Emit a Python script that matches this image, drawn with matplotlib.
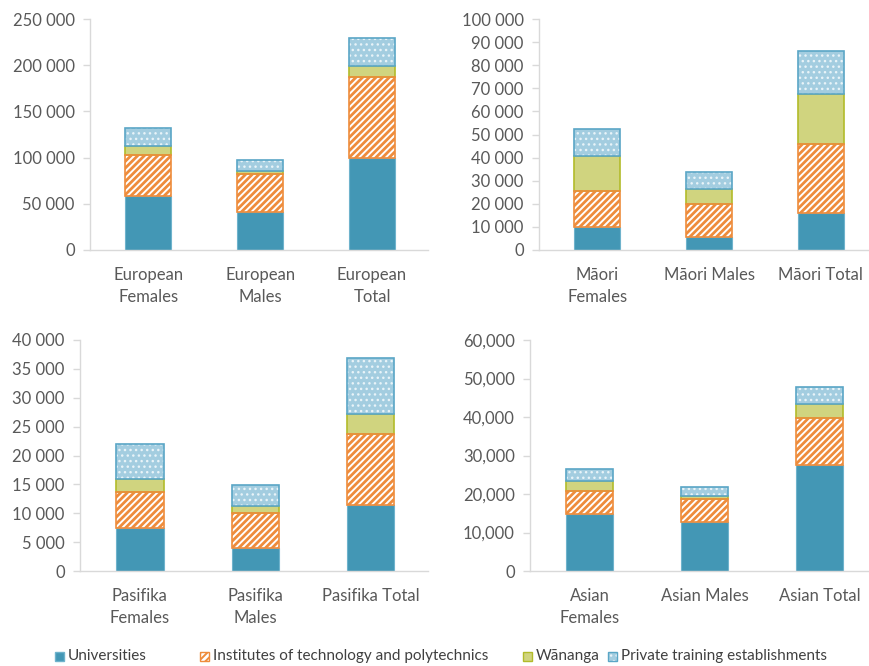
import matplotlib
matplotlib.use('Agg')
from matplotlib import pyplot as plt
from matplotlib.patches import Rectangle
from matplotlib.ticker import FuncFormatter

plt.rcParams['font.family'] = ['Lato', 'DejaVu Sans']

# values (students)
european_labels = ['European\nFemales', 'European\nMales', 'European\nTotal']
european_uni = [58000, 41000, 100000]
european_itp = [45000, 41000, 87000]
european_wan = [10000, 3500, 12000]
european_pte = [19500, 12000, 30000]

maori_labels = ['Māori\nFemales', 'Māori Males', 'Māori Total']
maori_uni = [10000, 5500, 16000]
maori_itp = [15700, 14300, 30000]
maori_wan = [15000, 6700, 21600]
maori_pte = [11800, 7400, 18600]

pasifika_labels = ['Pasifika\nFemales', 'Pasifika\nMales', 'Pasifika Total']
pasifika_uni = [7400, 3900, 11400]
pasifika_itp = [6200, 6100, 12300]
pasifika_wan = [2300, 1300, 3500]
pasifika_pte = [6100, 3600, 9600]

asian_labels = ['Asian\nFemales', 'Asian Males', 'Asian Total']
asian_uni = [14800, 12800, 27600]
asian_itp = [6100, 5900, 12100]
asian_wan = [2600, 900, 3600]
asian_pte = [2900, 2100, 4600]

legend_names = ['Universities', 'Institutes of technology and polytechnics',
                'Wānanga', 'Private training establishments']

uni_col = '#4397b5'
uni_edge = '#6fb3cc'
itp_col = '#ee8c3c'
wan_face = '#d0d47f'
wan_edge = '#b2bb2a'
pte_face = '#a3cde0'
pte_edge = '#5aa6c6'
text_col = '#595959'
axis_col = '#d9d9d9'

ITP_HATCH = '/////'
PTE_HATCH = '...'


def fmt_space(v, pos):
    return f'{int(v):,}'.replace(',', ' ')


def fmt_comma(v, pos):
    return f'{int(v):,}'


def stacked(ax, labels, uni, itp, wan, pte, ymax, step, fmt, xlim):
    x = list(range(len(labels)))
    w = 0.41
    b1 = uni
    b2 = [a + b for a, b in zip(uni, itp)]
    b3 = [a + b for a, b in zip(b2, wan)]
    ax.bar(x, uni, w, color=uni_col, edgecolor=uni_edge, linewidth=0.8, zorder=2)
    plt.rcParams['hatch.linewidth'] = 2.0
    ax.bar(x, itp, w, bottom=b1, color='white', edgecolor=itp_col, hatch=ITP_HATCH,
           linewidth=0, zorder=2)
    ax.bar(x, itp, w, bottom=b1, fill=False, edgecolor=itp_col, linewidth=1.2, zorder=3)
    ax.bar(x, wan, w, bottom=b2, color=wan_face, edgecolor=wan_edge, linewidth=1.2, zorder=2)
    plt.rcParams['hatch.linewidth'] = 1.0
    ax.bar(x, pte, w, bottom=b3, color=pte_face, edgecolor='#e8f3f8', hatch=PTE_HATCH,
           linewidth=0, zorder=2)
    ax.bar(x, pte, w, bottom=b3, fill=False, edgecolor=pte_edge, linewidth=1.2, zorder=3)
    ax.set_ylim(0, ymax)
    ax.set_yticks(list(range(0, ymax + 1, step)))
    ax.yaxis.set_major_formatter(FuncFormatter(fmt))
    ax.set_xlim(*xlim)
    ax.set_xticks(x)
    ax.set_xticklabels(labels, linespacing=1.5)
    for s in ['top', 'right']:
        ax.spines[s].set_visible(False)
    for s in ['left', 'bottom']:
        ax.spines[s].set_color(axis_col)
        ax.spines[s].set_linewidth(1.0)
    ax.tick_params(axis='y', colors=axis_col, labelcolor=text_col, labelsize=12,
                   length=5, width=1, pad=6)
    ax.tick_params(axis='x', length=0, labelcolor=text_col, labelsize=12, pad=12)


fig = plt.figure(figsize=(8.69, 6.66), dpi=100)
W, H = 869, 666


def add_ax(l, t, r, b):
    return fig.add_axes([l / W, 1 - b / H, (r - l) / W, (b - t) / H])


ax1 = add_ax(90, 19, 428, 250)
stacked(ax1, european_labels, european_uni, european_itp, european_wan, european_pte,
        250000, 50000, fmt_space, (-0.52, 2.5))
ax2 = add_ax(539, 19, 869, 250)
stacked(ax2, maori_labels, maori_uni, maori_itp, maori_wan, maori_pte,
        100000, 10000, fmt_space, (-0.52, 2.43))
ax3 = add_ax(80, 340, 428, 571)
stacked(ax3, pasifika_labels, pasifika_uni, pasifika_itp, pasifika_wan, pasifika_pte,
        40000, 5000, fmt_space, (-0.52, 2.5))
ax4 = add_ax(530, 340, 869, 571)
stacked(ax4, asian_labels, asian_uni, asian_itp, asian_wan, asian_pte,
        60000, 10000, fmt_comma, (-0.52, 2.43))

# legend laid out by hand, Excel style spacing
key_x = [55, 200, 523, 608]
key_y = 656
sq = 9


def key(px, face, edge, hatch=None, hatch_col=None, hlw=1.0):
    plt.rcParams['hatch.linewidth'] = hlw
    if hatch:
        fig.add_artist(Rectangle((px / W, 1 - (key_y + sq / 2) / H), sq / W, sq / H,
                                 transform=fig.transFigure, facecolor=face,
                                 edgecolor=hatch_col, hatch=hatch, linewidth=0))
        fig.add_artist(Rectangle((px / W, 1 - (key_y + sq / 2) / H), sq / W, sq / H,
                                 transform=fig.transFigure, fill=False,
                                 edgecolor=edge, linewidth=1))
    else:
        fig.add_artist(Rectangle((px / W, 1 - (key_y + sq / 2) / H), sq / W, sq / H,
                                 transform=fig.transFigure, facecolor=face,
                                 edgecolor=edge, linewidth=1))


key(key_x[0], uni_col, uni_edge)
key(key_x[1], 'white', itp_col, ITP_HATCH, itp_col, 1.4)
key(key_x[2], wan_face, wan_edge)
key(key_x[3], pte_face, pte_edge, PTE_HATCH, '#e8f3f8', 1.0)
for px, name in zip(key_x, legend_names):
    fig.text((px + sq + 4) / W, 1 - key_y / H, name, ha='left', va='center',
             fontsize=11, color='#404040')

fig.savefig('out.png', dpi=100, facecolor='white')
